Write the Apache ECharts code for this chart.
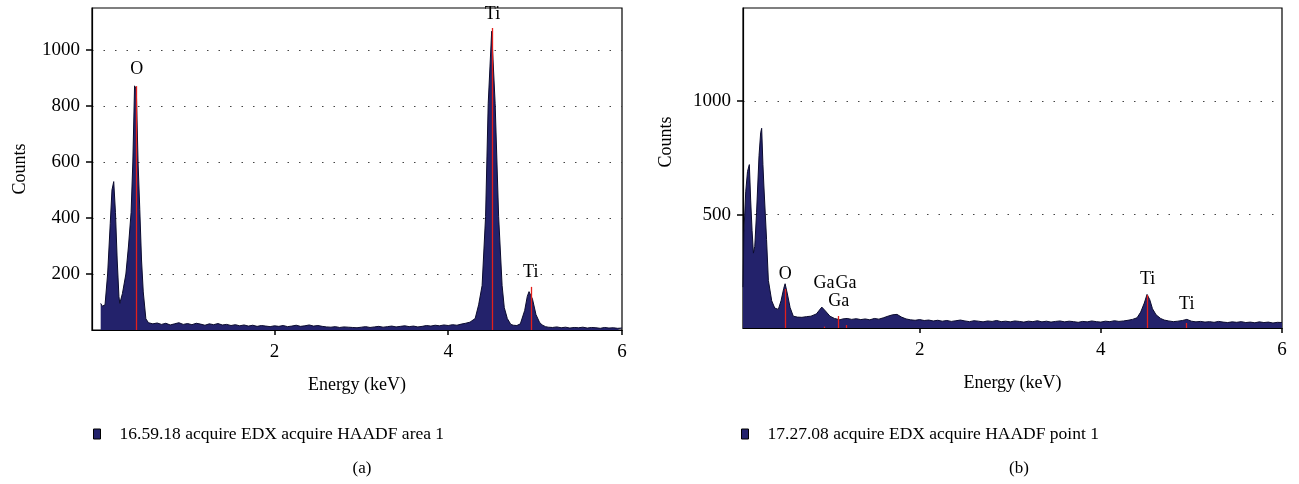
<!DOCTYPE html>
<html>
<head>
<meta charset="utf-8">
<script src="https://cdn.jsdelivr.net/npm/echarts@6/dist/echarts.min.js"></script>
<style>
	html, body { margin: 0; padding: 0; background: #fff; }
	#edx { width: 1299px; height: 484px; }
</style>
</head>
<body>
<div id="edx"></div>
<script>
/* (a) area 1 spectrum: energy (keV) / counts */
var energyA = [0.00, 0.02, 0.05, 0.08, 0.11, 0.13, 0.15, 0.17, 0.19, 0.21, 0.22, 0.25, 0.29, 0.32, 0.35, 0.37, 0.39, 0.41, 0.43, 0.45, 0.47, 0.49, 0.52, 0.55,
	0.60, 0.65, 0.70, 0.75, 0.80, 0.85, 0.90, 0.95, 1.00, 1.05, 1.10, 1.15, 1.20, 1.25, 1.30, 1.35, 1.40, 1.45, 1.50, 1.55, 1.60, 1.65, 1.70, 1.75, 1.80, 1.85, 1.90, 1.95,
	2.00, 2.05, 2.10, 2.15, 2.20, 2.25, 2.30, 2.35, 2.40, 2.45, 2.50, 2.55, 2.60, 2.65, 2.70, 2.75, 2.80, 2.85, 2.90, 2.95,
	3.00, 3.05, 3.10, 3.15, 3.20, 3.25, 3.30, 3.35, 3.40, 3.45, 3.50, 3.55, 3.60, 3.65, 3.70, 3.75, 3.80, 3.85, 3.90, 3.95,
	4.00, 4.05, 4.10, 4.15, 4.20, 4.25, 4.31, 4.35, 4.39, 4.43, 4.46, 4.50, 4.54, 4.58, 4.62, 4.645, 4.68, 4.72, 4.75, 4.79, 4.83, 4.88, 4.91, 4.93, 4.97,
	5.01, 5.05, 5.08, 5.12, 5.15, 5.20, 5.25, 5.30, 5.35, 5.40, 5.45, 5.50, 5.55, 5.60, 5.65, 5.70, 5.75, 5.80, 5.85, 5.90, 5.95, 6.00];
var countsA = [95, 85, 90, 200, 380, 500, 530, 420, 250, 120, 95, 130, 200, 300, 420, 600, 872, 860, 600, 430, 250, 136, 40, 26,
	22, 25, 20, 24, 18, 22, 26, 20, 23, 19, 24, 21, 17, 22, 19, 23, 18, 20, 16, 19, 15, 18, 14, 17, 13, 16, 14, 12,
	15, 13, 16, 12, 14, 17, 13, 15, 18, 14, 16, 13, 11, 10, 12, 9, 11, 10, 9, 8,
	10, 12, 9, 11, 13, 10, 12, 14, 11, 13, 15, 12, 14, 11, 13, 16, 14, 17, 15, 18,
	16, 19, 17, 21, 24, 28, 41, 90, 159, 406, 808, 1067, 808, 406, 159, 80, 41, 20, 17, 16, 22, 70, 120, 137, 110,
	55, 28, 18, 12, 10, 9, 11, 8, 10, 7, 9, 8, 10, 7, 9, 8, 6, 9, 7, 8, 6, 7];

/* (b) point 1 spectrum */
var energyB = [0.05, 0.06, 0.08, 0.10, 0.12, 0.135, 0.15, 0.165, 0.18, 0.20, 0.227, 0.245, 0.256, 0.27, 0.28, 0.31, 0.33, 0.367, 0.40, 0.44, 0.47, 0.50, 0.515, 0.54, 0.57, 0.605,
	0.65, 0.70, 0.75, 0.80, 0.86, 0.92, 0.96, 1.01, 1.06, 1.12, 1.15, 1.20, 1.25, 1.30, 1.35, 1.40, 1.45, 1.50, 1.55, 1.60, 1.65, 1.70, 1.75, 1.80, 1.85, 1.90, 1.95,
	2.00, 2.05, 2.10, 2.15, 2.20, 2.25, 2.30, 2.35, 2.40, 2.45, 2.50, 2.55, 2.60, 2.65, 2.70, 2.75, 2.80, 2.85, 2.90, 2.95,
	3.00, 3.05, 3.10, 3.15, 3.20, 3.25, 3.30, 3.35, 3.40, 3.45, 3.50, 3.55, 3.60, 3.65, 3.70, 3.75, 3.80, 3.85, 3.90, 3.95,
	4.00, 4.05, 4.10, 4.15, 4.20, 4.25, 4.30, 4.35, 4.40, 4.44, 4.48, 4.51, 4.54, 4.57, 4.61, 4.66, 4.70, 4.75, 4.80, 4.85, 4.90, 4.95,
	5.00, 5.05, 5.10, 5.15, 5.20, 5.25, 5.30, 5.35, 5.40, 5.45, 5.50, 5.55, 5.60, 5.65, 5.70, 5.75, 5.80, 5.85, 5.90, 5.95, 6.00];
var countsB = [180, 420, 600, 690, 720, 560, 430, 330, 360, 510, 760, 860, 880, 720, 630, 390, 210, 120, 88, 82, 120, 175, 195, 150, 90, 52,
	48, 47, 50, 52, 62, 92, 75, 52, 42, 36, 40, 42, 38, 41, 37, 40, 36, 42, 39, 45, 52, 58, 60, 48, 40, 36, 34,
	37, 33, 35, 31, 34, 30, 33, 29, 32, 35, 31, 28, 32, 30, 27, 31, 29, 33, 28, 30,
	27, 31, 29, 26, 30, 28, 32, 27, 30, 26, 29, 31, 27, 30, 28, 25, 29, 27, 31, 28,
	26, 30, 28, 32, 29, 31, 34, 38, 45, 70, 110, 148, 125, 85, 58, 42, 35, 31, 28, 30, 33, 38,
	30, 27, 29, 26, 28, 25, 29, 26, 24, 27, 25, 28, 24, 26, 23, 27, 24, 26, 22, 25, 24];

/* element markers: name, energy, line height (counts), label distance */
var markNamesA = ['O', 'Ti', 'Ti'];
var markEnergyA = [0.414, 4.51, 4.95];
var markHeightA = [871, 1079, 154];
var markGapA = [8, 5, 6];

var markNamesB = ['O', 'Ga', 'Ga', 'Ga', 'Ti', 'Ti'];
var markEnergyB = [0.517, 0.944, 1.106, 1.187, 4.517, 4.948];
var markHeightB = [172, 6, 53, 13, 145, 22];
var markGapB = [6, 34, 6, 33, 7, 10];

var ticksXA = [2, 4, 6];
var ticksYA = [200, 400, 600, 800, 1000];
var ticksXB = [2, 4, 6];
var ticksYB = [500, 1000];

var legendA = '16.59.18 acquire EDX acquire HAADF area 1';
var legendB = '17.27.08 acquire EDX acquire HAADF point 1';

var FONT = '"Liberation Serif", "DejaVu Serif", serif';

function pairs(xs, ys) {
	var out = [];
	for (var i = 0; i < xs.length; i++) out.push([xs[i], ys[i]]);
	return out;
}

function markers(names, es, hs, gaps) {
	var out = [];
	for (var i = 0; i < names.length; i++) {
		out.push([
			{ name: names[i], coord: [es[i], 0], label: { distance: gaps[i] } },
			{ coord: [es[i], hs[i]] }
		]);
	}
	return out;
}

function plain(v) { return String(v); }

function xAxisOf(idx, min, ticks) {
	return {
		type: 'value', gridIndex: idx, min: min, max: 6,
		name: 'Energy (keV)', nameLocation: 'middle', nameGap: 46,
		nameTextStyle: { fontFamily: FONT, fontSize: 18, color: '#000' },
		axisLine: { show: true, onZero: false, lineStyle: { color: '#000', width: 1.2 } },
		axisTick: { show: true, customValues: ticks, length: 5, lineStyle: { color: '#000', width: 1.5 } },
		axisLabel: { customValues: ticks, margin: 13, formatter: plain, fontFamily: FONT, fontSize: 19, color: '#000' },
		splitLine: { show: false }
	};
}

function yAxisOf(idx, max, interval, ticks, gap, pad) {
	return {
		type: 'value', gridIndex: idx, min: 0, max: max, interval: interval,
		name: 'Counts', nameLocation: 'middle', nameGap: gap,
		nameTextStyle: { fontFamily: FONT, fontSize: 18, color: '#000', padding: pad },
		axisLine: { show: true, onZero: false, lineStyle: { color: '#000', width: 1.2 } },
		axisTick: { show: true, customValues: ticks, length: 6, lineStyle: { color: '#000', width: 1.5 } },
		axisLabel: { customValues: ticks, margin: 12, formatter: plain, fontFamily: FONT, fontSize: 19, color: '#000' },
		splitLine: { show: true, lineStyle: { color: '#444', width: 1.2, type: [1.5, 10] } }
	};
}

function seriesOf(idx, name, data, marks) {
	return {
		name: name, type: 'line', xAxisIndex: idx, yAxisIndex: idx,
		data: data, symbol: 'none', smooth: false,
		lineStyle: { color: '#0b0b2e', width: 1 },
		itemStyle: { color: '#23226b', borderColor: '#000', borderWidth: 1 },
		areaStyle: { color: '#23226b', opacity: 1 },
		markLine: {
			silent: true, symbol: ['none', 'none'],
			lineStyle: { color: '#e3201b', width: 1.3, type: 'solid' },
			label: { show: true, position: 'end', formatter: '{b}', color: '#000', fontFamily: FONT, fontSize: 18 },
			data: marks
		}
	};
}

function legendOf(name, left) {
	return {
		data: [name], left: left, top: 425, padding: 0, icon: 'rect', itemWidth: 7, itemHeight: 10,
		itemStyle: { borderColor: '#000', borderWidth: 1 },
		textStyle: { fontFamily: FONT, fontSize: 17.5, color: '#000', padding: [0, 0, 0, 14] }
	};
}

var chart = echarts.init(document.getElementById('edx'));
var option = {
	animation: false,
	grid: [
		{ left: 92, top: 8, width: 530, height: 322, show: true, borderColor: '#000', borderWidth: 1.2, backgroundColor: '#fff' },
		{ left: 743, top: 8, width: 539, height: 320, show: true, borderColor: '#000', borderWidth: 1.2, backgroundColor: '#fff' }
	],
	xAxis: [xAxisOf(0, -0.1, ticksXA), xAxisOf(1, 0.05, ticksXB)],
	yAxis: [yAxisOf(0, 1150, 200, ticksYA, 63, [0, 0, 0, 0]), yAxisOf(1, 1410, 500, ticksYB, 68, [0, 0, 0, 52])],
	legend: [legendOf(legendA, 93), legendOf(legendB, 741)],
	title: [
		{ text: '(a)', left: 357, top: 455, textAlign: 'center', textStyle: { fontFamily: FONT, fontSize: 17, fontWeight: 'normal', color: '#000' } },
		{ text: '(b)', left: 1014, top: 455, textAlign: 'center', textStyle: { fontFamily: FONT, fontSize: 17, fontWeight: 'normal', color: '#000' } }
	],
	series: [
		seriesOf(0, legendA, pairs(energyA, countsA), markers(markNamesA, markEnergyA, markHeightA, markGapA)),
		seriesOf(1, legendB, pairs(energyB, countsB), markers(markNamesB, markEnergyB, markHeightB, markGapB))
	]
};
chart.setOption(option);
</script>
</body>
</html>
